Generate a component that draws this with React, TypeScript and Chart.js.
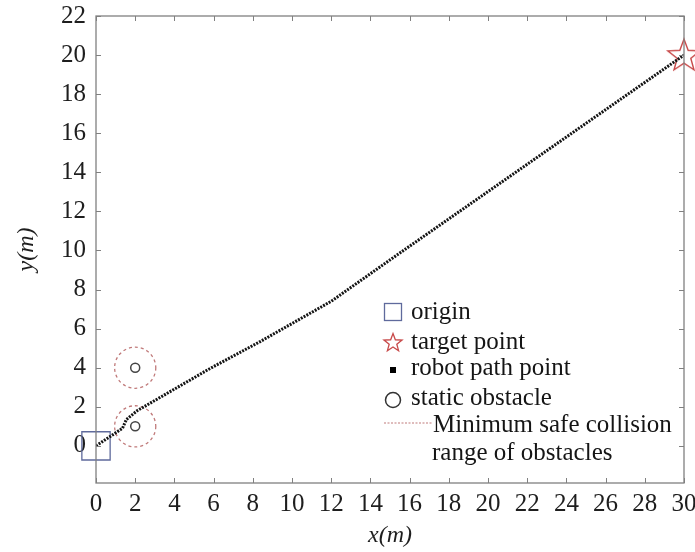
import React, { useEffect, useRef } from 'react';
import { Chart, registerables } from 'chart.js';

Chart.register(...registerables);

const xTickValues = [0, 2, 4, 6, 8, 10, 12, 14, 16, 18, 20, 22, 24, 26, 28, 30];
const yTickValues = [0, 2, 4, 6, 8, 10, 12, 14, 16, 18, 20, 22];
const originX = [0];
const originY = [0];
const targetX = [30];
const targetY = [20];
const pathX = [0, 1.35, 1.55, 2.1, 5.8, 8.4, 12.0, 15.5, 30];
const pathY = [0, 0.9, 1.35, 1.8, 3.95, 5.35, 7.4, 9.87, 20];
const obstacleX = [2, 2];
const obstacleY = [1.0, 4.0];
const safeRadius = [1.05, 1.05];
const legendLabels = ['origin', 'target point', 'robot path point', 'static obstacle', 'Minimum safe collision', 'range of obstacles'];

const FONT = "'Liberation Serif', 'Times New Roman', serif";
const STAR_COLOR = '#c84a4a';
const ORIGIN_COLOR = '#5f6a9c';
const SAFE_COLOR = '#c07a7a';
const AXIS_COLOR = '#808080';

function starPath(ctx: CanvasRenderingContext2D, cx: number, cy: number, R: number, r: number) {
  ctx.beginPath();
  for (let i = 0; i < 10; i++) {
    const rad = i % 2 === 0 ? R : r;
    const a = -Math.PI / 2 + (i * Math.PI) / 5;
    const px = cx + rad * Math.cos(a);
    const py = cy + rad * Math.sin(a);
    if (i === 0) ctx.moveTo(px, py);
    else ctx.lineTo(px, py);
  }
  ctx.closePath();
}

function makeStar(R: number) {
  const c = document.createElement('canvas');
  const s = Math.ceil(R * 2 + 4);
  c.width = s;
  c.height = s;
  const g = c.getContext('2d')!;
  g.strokeStyle = STAR_COLOR;
  g.lineWidth = 1.4;
  starPath(g, s / 2, s / 2 + 1, R, R * 0.42);
  g.stroke();
  return c;
}

const framePlugin = {
  id: 'frame',
  beforeDatasetsDraw(chart: any) {
    const { ctx, scales } = chart;
    const x = scales.x;
    const y = scales.y;
    ctx.save();
    ctx.strokeStyle = SAFE_COLOR;
    ctx.lineWidth = 1.3;
    ctx.setLineDash([3, 3]);
    obstacleX.forEach((ox, i) => {
      const cx = x.getPixelForValue(ox);
      const cy = y.getPixelForValue(obstacleY[i]);
      const r = x.getPixelForValue(ox + safeRadius[i]) - cx;
      ctx.beginPath();
      ctx.arc(cx, cy, r, 0, Math.PI * 2);
      ctx.stroke();
    });
    ctx.restore();
  },
  afterDraw(chart: any) {
    const { ctx, chartArea, scales } = chart;
    const x = scales.x;
    const y = scales.y;
    const { left, right, top, bottom } = chartArea;
    ctx.save();
    ctx.strokeStyle = AXIS_COLOR;
    ctx.lineWidth = 1.3;
    ctx.setLineDash([]);
    ctx.strokeRect(left, top, right - left, bottom - top);
    ctx.lineWidth = 1;
    const tl = 5;
    ctx.beginPath();
    xTickValues.forEach((v) => {
      const px = Math.round(x.getPixelForValue(v)) + 0.5;
      ctx.moveTo(px, bottom);
      ctx.lineTo(px, bottom - tl);
      ctx.moveTo(px, top);
      ctx.lineTo(px, top + tl);
    });
    yTickValues.forEach((v) => {
      const py = Math.round(y.getPixelForValue(v)) + 0.5;
      ctx.moveTo(left, py);
      ctx.lineTo(left + tl, py);
      ctx.moveTo(right, py);
      ctx.lineTo(right - tl, py);
    });
    ctx.stroke();

    // legend
    const ix = 393;
    const tx = 411;
    const rows = [312, 342, 368, 398, 425, 453];
    ctx.font = `25px ${FONT}`;
    ctx.fillStyle = '#151515';
    ctx.textBaseline = 'middle';
    ctx.textAlign = 'left';
    // origin
    ctx.strokeStyle = ORIGIN_COLOR;
    ctx.lineWidth = 1.3;
    ctx.strokeRect(ix - 8.5, rows[0] - 8.5, 17, 17);
    ctx.fillText(legendLabels[0], tx, rows[0]);
    // target
    ctx.strokeStyle = STAR_COLOR;
    ctx.lineWidth = 1.3;
    starPath(ctx, ix, rows[1] + 1, 9.5, 4);
    ctx.stroke();
    ctx.fillText(legendLabels[1], tx, rows[1]);
    // path point
    ctx.fillStyle = '#000';
    ctx.fillRect(ix - 3, rows[2] - 1, 6, 6);
    ctx.fillStyle = '#151515';
    ctx.fillText(legendLabels[2], tx, rows[2]);
    // static obstacle
    ctx.strokeStyle = '#333';
    ctx.lineWidth = 1.5;
    ctx.beginPath();
    ctx.arc(ix, rows[3] + 2, 7.5, 0, Math.PI * 2);
    ctx.stroke();
    ctx.fillText(legendLabels[3], tx, rows[3]);
    // safe range
    ctx.strokeStyle = SAFE_COLOR;
    ctx.lineWidth = 1.2;
    ctx.setLineDash([2, 1.5]);
    ctx.beginPath();
    ctx.moveTo(384, rows[4] - 2);
    ctx.lineTo(433, rows[4] - 2);
    ctx.stroke();
    ctx.setLineDash([]);
    ctx.fillText(legendLabels[4], 433, rows[4]);
    ctx.fillText(legendLabels[5], 432, rows[5]);
    ctx.restore();
  },
};

export default function App() {
  const ref = useRef<HTMLCanvasElement | null>(null);
  useEffect(() => {
    if (!ref.current) return;
    const star = makeStar(17);
    const chart = new Chart(ref.current, {
      type: 'scatter',
      data: {
        datasets: [
          {
            label: 'robot path point',
            data: pathX.map((v, i) => ({ x: v, y: pathY[i] })),
            showLine: true,
            borderColor: '#141414',
            borderWidth: 3,
            borderDash: [2, 1.2],
            pointRadius: 0,
            fill: false,
          } as any,
          {
            label: 'static obstacle',
            data: obstacleX.map((v, i) => ({ x: v, y: obstacleY[i] })),
            pointStyle: 'circle',
            pointRadius: 4.5,
            borderColor: '#444',
            borderWidth: 1.5,
            backgroundColor: 'rgba(0,0,0,0)',
          },
          {
            label: 'origin',
            data: originX.map((v, i) => ({ x: v, y: originY[i] })),
            pointStyle: 'rect',
            pointRadius: 20,
            borderColor: ORIGIN_COLOR,
            borderWidth: 1.3,
            backgroundColor: 'rgba(0,0,0,0)',
            clip: false,
          } as any,
          {
            label: 'target point',
            data: targetX.map((v, i) => ({ x: v, y: targetY[i] })),
            pointStyle: star,
            pointRadius: 17,
            clip: false,
          } as any,
        ],
      },
      options: {
        animation: false,
        responsive: false,
        events: [],
        layout: { autoPadding: false, padding: { left: 0, right: 11, top: 16, bottom: 0 } },
        plugins: { legend: { display: false }, tooltip: { enabled: false } },
        scales: {
          x: {
            type: 'linear',
            min: 0,
            max: 30,
            afterBuildTicks: (s: any) => {
              s.ticks = xTickValues.map((v) => ({ value: v }));
            },
            afterFit: (s: any) => {
              s.height = 69;
              s.paddingLeft = 0;
              s.paddingRight = 0;
            },
            grid: { display: false, drawTicks: false },
            border: { display: false },
            ticks: { padding: 6, color: '#1e1e1e', font: { family: FONT, size: 25 }, maxRotation: 0, autoSkip: false },
            title: { display: true, text: 'x(m)', color: '#1e1e1e', font: { family: FONT, size: 24, style: 'italic' }, padding: { top: 0, bottom: 2 } },
          },
          y: {
            type: 'linear',
            min: -1.9,
            max: 22,
            afterBuildTicks: (s: any) => {
              s.ticks = yTickValues.map((v) => ({ value: v }));
            },
            afterFit: (s: any) => {
              s.width = 96;
              s.paddingTop = 0;
              s.paddingBottom = 0;
            },
            grid: { display: false, drawTicks: false },
            border: { display: false },
            ticks: { padding: 10, color: '#1e1e1e', font: { family: FONT, size: 25 }, autoSkip: false },
            title: { display: true, text: 'y(m)', color: '#1e1e1e', font: { family: FONT, size: 24, style: 'italic' }, padding: { top: 12, bottom: 0 } },
          },
        },
      },
      plugins: [framePlugin],
    });
    return () => chart.destroy();
  }, []);
  return (
    <div style={{ position: 'absolute', left: 0, top: 0, width: 695, height: 552, background: '#fff' }}>
      <canvas ref={ref} width={695} height={552} style={{ display: 'block' }} />
    </div>
  );
}
